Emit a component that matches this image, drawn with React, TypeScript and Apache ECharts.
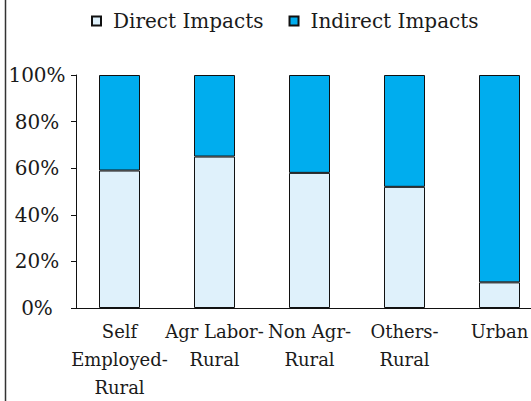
import React, { useEffect, useRef } from "react";
import * as echarts from "echarts";

const categories = ["Self\nEmployed-\nRural", "Agr Labor-\nRural", "Non Agr-\nRural", "Others-\nRural", "Urban"];
const directImpacts = [59, 65, 58, 52, 11];
const indirectImpacts = [41, 35, 42, 48, 89];
const seriesNames = ["Direct Impacts", "Indirect Impacts"];

const FONT = "DejaVu Serif";

export default function App() {
  const ref = useRef<HTMLDivElement>(null);
  useEffect(() => {
    const chart = echarts.init(ref.current!, null, { renderer: "svg" });
    chart.setOption({
      animation: false,
      textStyle: { fontFamily: FONT },
      legend: {
        left: 91,
        top: 11,
        padding: 0,
        itemWidth: 9,
        itemHeight: 9,
        itemGap: 25,
        icon: "rect",
        textStyle: { fontFamily: FONT, fontSize: 20, color: "#1a1a1a", padding: [0, 0, 0, 7] },
        data: seriesNames,
      },
      grid: { left: 72, right: 13, top: 75, bottom: 89, containLabel: false },
      xAxis: {
        type: "category",
        data: categories,
        axisLine: { lineStyle: { color: "#111", width: 1 } },
        axisTick: { show: false },
        axisLabel: {
          fontFamily: FONT,
          fontSize: 18,
          color: "#1a1a1a",
          lineHeight: 28,
          margin: 9,
          interval: 0,
        },
      },
      yAxis: {
        type: "value",
        min: 0,
        max: 100,
        interval: 20,
        offset: -4,
        axisLine: { show: true, lineStyle: { color: "#111", width: 1 } },
        axisTick: { show: true, length: 5, lineStyle: { color: "#111" } },
        splitLine: { show: false },
        axisLabel: {
          fontFamily: FONT,
          fontSize: 20,
          color: "#1a1a1a",
          margin: 39,
          align: "center",
          formatter: "{value}%",
        },
      },
      series: [
        {
          name: seriesNames[0],
          type: "bar",
          stack: "total",
          barWidth: 41,
          data: directImpacts,
          itemStyle: { color: "#DFF1FB", borderColor: "#111", borderWidth: 1 },
        },
        {
          name: seriesNames[1],
          type: "bar",
          stack: "total",
          barWidth: 41,
          data: indirectImpacts,
          itemStyle: { color: "#00ADEE", borderColor: "#111", borderWidth: 1 },
        },
      ],
      graphic: [
        {
          type: "line",
          shape: { x1: 5.5, y1: 0, x2: 5.5, y2: 401 },
          style: { stroke: "#333", lineWidth: 1.5 },
        },
      ],
    });
    return () => chart.dispose();
  }, []);
  return (
    <div style={{ width: 531, height: 401, position: "absolute", left: 0, top: 0, overflow: "hidden" }}>
      <div ref={ref} style={{ width: 560, height: 401 }} />
    </div>
  );
}
